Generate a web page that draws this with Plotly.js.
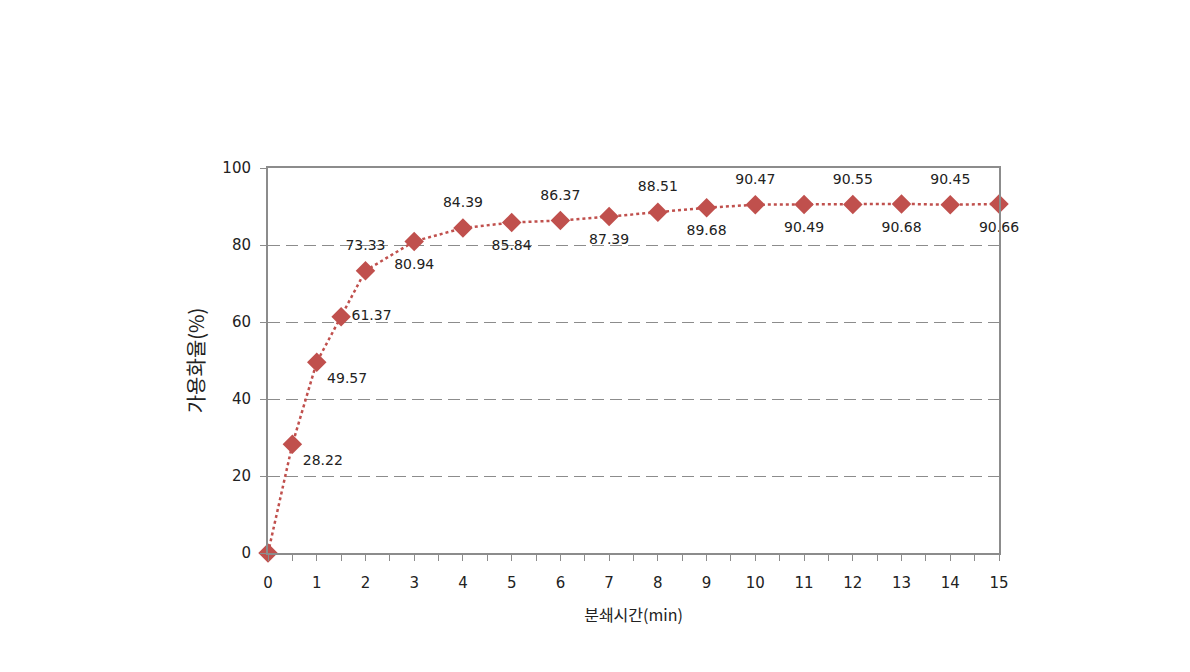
<!DOCTYPE html>
<html>
<head>
<meta charset="utf-8">
<script src="https://cdn.plot.ly/plotly-3.0.1.min.js"></script>
<style>html,body{margin:0;padding:0;background:#fff;}#chart{width:1190px;height:672px;}</style>
</head>
<body>
<div id="chart"></div>
<script>
// Data
const grindTime = [0, 0.5, 1, 1.5, 2, 3, 4, 5, 6, 7, 8, 9, 10, 11, 12, 13, 14, 15];
const solubilization = [0, 28.22, 49.57, 61.37, 73.33, 80.94, 84.39, 85.84, 86.37, 87.39, 88.51, 89.68, 90.47, 90.49, 90.55, 90.68, 90.45, 90.66];
const xTitle = '분쇄시간(min)';
const yTitle = '가용화율(%)';

// label placement (style): side labels sit close to the marker, top/bottom labels further out
const labelPos = ['top center', 'bottom right', 'bottom right', 'middle right', 'top center', 'bottom center',
  'top center', 'bottom center', 'top center', 'bottom center', 'top center', 'bottom center',
  'top center', 'bottom center', 'top center', 'bottom center', 'top center', 'bottom center'];
const isSide = labelPos.map(p => p.indexOf('right') >= 0);

const labels = solubilization.map((v, i) => i === 0 ? '' : v.toFixed(2));
const nearLabels = labels.map((t, i) => isSide[i] ? t : '');
const farLabels = labels.map((t, i) => isSide[i] ? '' : t);

const red = '#C0504D';
const font = 'Noto Sans CJK KR, DejaVu Sans, sans-serif';
const numFont = 'DejaVu Sans, sans-serif';
const labelFont = {family: numFont, size: 14, color: '#222'};

const lineTrace = {
  x: grindTime,
  y: solubilization,
  type: 'scatter',
  mode: 'lines+markers+text',
  line: {color: red, width: 2.5, dash: 'dot'},
  marker: {symbol: 'diamond', size: 15, color: red},
  text: nearLabels,
  textposition: labelPos,
  textfont: labelFont,
  cliponaxis: false,
  hoverinfo: 'x+y'
};

// label carrier: invisible larger markers push the labels further from the points
const labelTrace = {
  x: grindTime,
  y: solubilization,
  type: 'scatter',
  mode: 'markers+text',
  marker: {symbol: 'diamond', size: 26, color: 'rgba(0,0,0,0)'},
  text: farLabels,
  textposition: labelPos,
  textfont: labelFont,
  cliponaxis: false,
  hoverinfo: 'skip'
};

const layout = {
  width: 1190,
  height: 672,
  paper_bgcolor: '#fff',
  plot_bgcolor: '#fff',
  showlegend: false,
  margin: {l: 268, r: 191, t: 168, b: 119},
  font: {family: font, color: '#222'},
  xaxis: {
    range: [0, 15],
    dtick: 1,
    tick0: 0,
    showgrid: false,
    zeroline: false,
    showline: true,
    linecolor: '#8c8c8c',
    linewidth: 2,
    mirror: true,
    ticks: 'outside',
    ticklen: 6,
    tickcolor: '#8c8c8c',
    ticklabelstandoff: 9,
    minor: {dtick: 0.5, ticks: 'outside', ticklen: 6, tickcolor: '#8c8c8c', showgrid: false},
    tickfont: {family: numFont, size: 15, color: '#222'},
    title: {text: xTitle, font: {family: font, size: 16, color: '#222'}, standoff: 19}
  },
  yaxis: {
    range: [0, 100],
    dtick: 20,
    showgrid: true,
    gridcolor: '#8c8c8c',
    griddash: '12px,6px',
    gridwidth: 1,
    zeroline: false,
    showline: true,
    linecolor: '#8c8c8c',
    linewidth: 2,
    mirror: true,
    ticks: 'outside',
    ticklen: 6,
    tickcolor: '#8c8c8c',
    ticklabelstandoff: 6,
    tickfont: {family: numFont, size: 15, color: '#222'},
    title: {text: yTitle, font: {family: font, size: 20, color: '#222'}, standoff: 12}
  }
};

Plotly.newPlot('chart', [lineTrace, labelTrace], layout, {displayModeBar: false, staticPlot: true});
</script>
</body>
</html>
